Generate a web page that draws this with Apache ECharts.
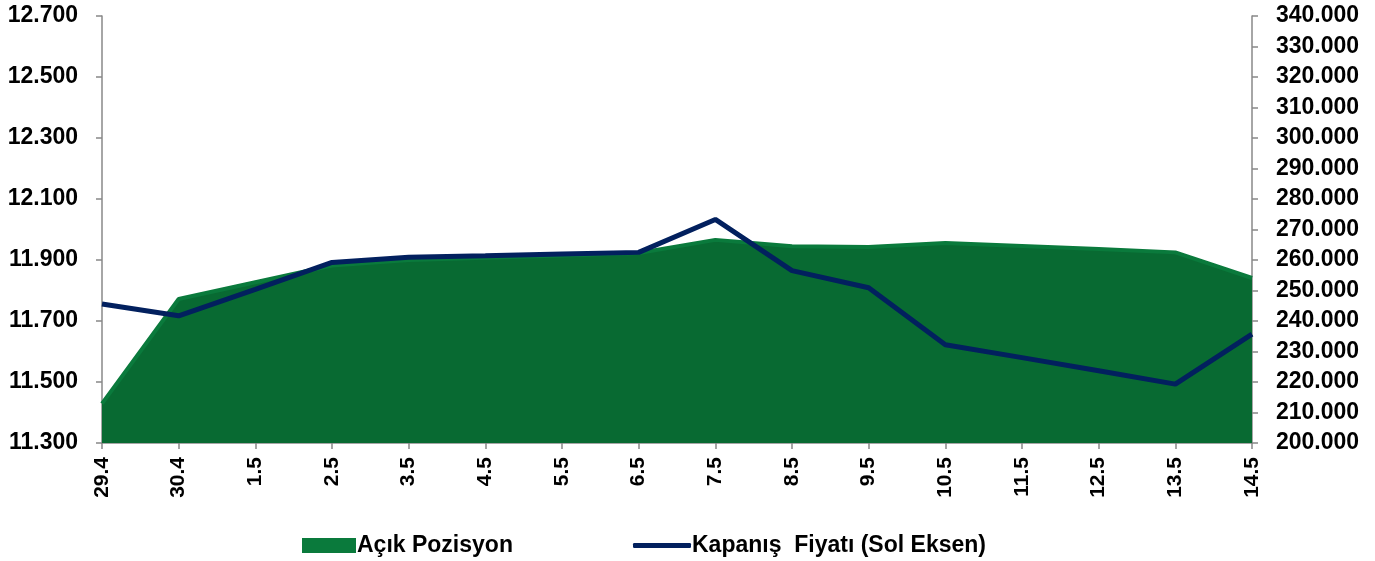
<!DOCTYPE html>
<html>
<head>
<meta charset="utf-8">
<script src="https://cdn.jsdelivr.net/npm/echarts@6/dist/echarts.min.js"></script>
<style>
  html, body { margin: 0; padding: 0; background: #fff; }
  #chart { width: 1375px; height: 561px; }
</style>
</head>
<body>
<div id="chart"></div>
<script>
// tarih etiketleri
const days = ['29.4', '30.4', '1.5', '2.5', '3.5', '4.5', '5.5', '6.5', '7.5', '8.5', '9.5', '10.5', '11.5', '12.5', '13.5', '14.5'];
// kapanış fiyatı (sol eksen)
const closePrice = [11756, 11717, 11804, 11892, 11909, 11914, 11920, 11925, 12033, 11865, 11809, 11622, 11580, 11537, 11493, 11657];
// açık pozisyon (sağ eksen)
const openInterest = [212900, 247200, 252700, 258200, 260000, 260700, 261500, 262300, 266600, 264500, 264300, 265600, 264600, 263600, 262500, 254100];

const FONT = '"Liberation Sans", Arial, sans-serif';

// 11300 -> "11.300"
function fmt(n) {
  return String(Math.round(n)).replace(/\B(?=(\d{3})+(?!\d))/g, '.');
}

const axisLine = { show: true, lineStyle: { color: '#888', width: 1.5 } };
const axisTick = { show: true, length: 6, lineStyle: { color: '#888', width: 1.5 } };

const chart = echarts.init(document.getElementById('chart'));

chart.setOption({
  animation: false,
  grid: { left: 102, right: 123, top: 16, bottom: 118 },
  legend: [
    {
      left: 297,
      top: 529,
      itemWidth: 54,
      itemHeight: 15,
      icon: 'rect',
      data: ['Açık Pozisyon'],
      textStyle: { color: '#000', fontWeight: 'bold', fontSize: 23, fontFamily: FONT, padding: [0, 0, 0, -4] },
    },
    {
      left: 628,
      top: 529,
      itemWidth: 58,
      itemHeight: 5,
      icon: 'roundRect',
      data: ['Kapanış  Fiyatı (Sol Eksen)'],
      textStyle: { color: '#000', fontWeight: 'bold', fontSize: 23, fontFamily: FONT, padding: [0, 0, 0, -4] },
    },
  ],
  xAxis: {
    type: 'category',
    data: days,
    boundaryGap: false,
    axisLine: axisLine,
    axisTick: { ...axisTick, alignWithLabel: true, interval: 0 },
    axisLabel: {
      interval: 0,
      rotate: 90,
      margin: 14,
      color: '#000',
      fontWeight: 'bold',
      fontSize: 21,
      fontFamily: FONT,
    },
    splitLine: { show: false },
  },
  yAxis: [
    {
      type: 'value',
      min: 11300,
      max: 12700,
      interval: 200,
      position: 'left',
      axisLine: axisLine,
      axisTick: axisTick,
      splitLine: { show: false },
      axisLabel: {
        margin: 24,
        color: '#000',
        fontWeight: 'bold',
        fontSize: 23,
        fontFamily: FONT,
        formatter: fmt,
      },
    },
    {
      type: 'value',
      min: 200000,
      max: 340000,
      interval: 10000,
      position: 'right',
      axisLine: axisLine,
      axisTick: axisTick,
      splitLine: { show: false },
      axisLabel: {
        margin: 24,
        color: '#000',
        fontWeight: 'bold',
        fontSize: 23,
        fontFamily: FONT,
        formatter: fmt,
      },
    },
  ],
  series: [
    {
      name: 'Açık Pozisyon',
      type: 'line',
      yAxisIndex: 1,
      data: openInterest,
      symbol: 'none',
      itemStyle: { color: '#0A7A3C' },
      lineStyle: { color: '#0A7A3C', width: 4 },
      areaStyle: { color: '#086A32', opacity: 1 },
      z: 1,
    },
    {
      name: 'Kapanış  Fiyatı (Sol Eksen)',
      type: 'line',
      yAxisIndex: 0,
      data: closePrice,
      symbol: 'none',
      itemStyle: { color: '#02205E' },
      lineStyle: { color: '#02205E', width: 5 },
      z: 3,
    },
  ],
});
</script>
</body>
</html>
